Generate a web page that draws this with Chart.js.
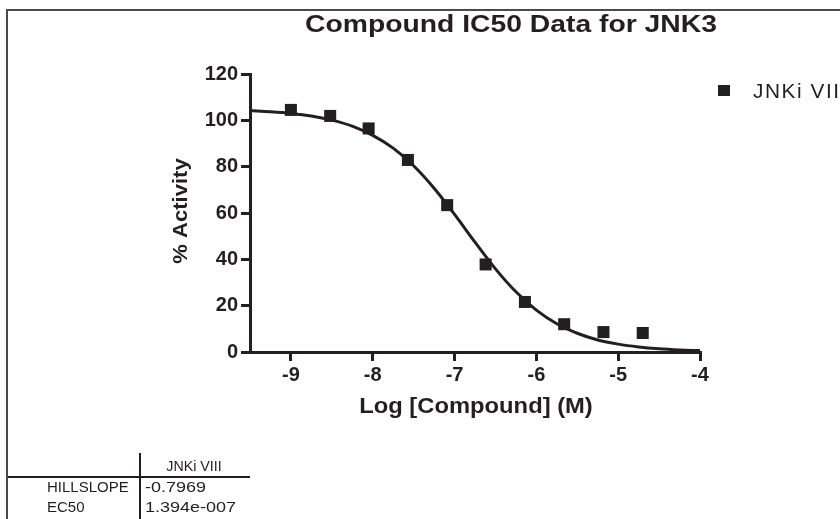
<!DOCTYPE html>
<html>
<head>
<meta charset="utf-8">
<script src="https://cdn.jsdelivr.net/npm/chart.js@4/dist/chart.umd.min.js"></script>
<style>
  body { margin: 0; background: #fff; }
  #ic50 { display: block; }
</style>
</head>
<body>
<canvas id="ic50" width="840" height="519"></canvas>
<script>
// Values
const chartTitle = 'Compound IC50 Data for JNK3';
const seriesName = 'JNKi VIII';
const xTicks = [-9, -8, -7, -6, -5, -4];
const logConc = [-9.0, -8.52, -8.05, -7.57, -7.09, -6.62, -6.14, -5.66, -5.18, -4.70];
const activity = [104.5, 101.9, 96.5, 82.9, 63.4, 37.8, 21.6, 12.0, 8.6, 8.2];
// fitted curve as traced on the plot
const fitX = [-9.5, -9.25, -9.0, -8.75, -8.5, -8.25, -8.0, -7.75, -7.5, -7.25, -7.0, -6.75,
              -6.5, -6.25, -6.0, -5.75, -5.5, -5.25, -5.0, -4.75, -4.5, -4.25, -4.0];
const fitY = [104.2, 103.7, 103.0, 101.9, 100.1, 97.5, 93.5, 88.0, 80.4, 70.7, 59.4, 47.4,
              35.9, 26.0, 18.1, 12.2, 8.1, 5.2, 3.4, 2.2, 1.4, 0.9, 0.6];
const tableRows = ['HILLSLOPE', 'EC50'];
const tableValues = ['-0.7969', '1.394e-007'];

const ink = '#231f20';
const fontFamily = '"Liberation Sans", Arial, sans-serif';

// text in the original is a bit stretched sideways, so allow a horizontal scale
function drawText(ctx, text, x, y, font, align, sx) {
    ctx.save();
    ctx.translate(x, y);
    ctx.scale(sx || 1, 1);
    ctx.font = font;
    ctx.textAlign = align;
    ctx.fillText(text, 0, 0);
    ctx.restore();
}

// Extra decorations: frame, title, axis titles, legend and results table
const extrasPlugin = {
    id: 'extras',
    beforeDraw(chart) {
        const ctx = chart.ctx;
        ctx.save();
        ctx.strokeStyle = '#4a4a4a';
        ctx.lineWidth = 2;
        ctx.beginPath();
        ctx.moveTo(7, 519);
        ctx.lineTo(7, 10);
        ctx.lineTo(840, 10);
        ctx.stroke();
        ctx.restore();
    },
    afterDraw(chart) {
        const ctx = chart.ctx;
        ctx.save();
        ctx.fillStyle = ink;
        ctx.textBaseline = 'middle';

        // title
        drawText(ctx, chartTitle, 511, 26, 'bold 23px ' + fontFamily, 'center', 1.23);

        // x axis title
        drawText(ctx, 'Log [Compound] (M)', 476, 407, 'bold 22px ' + fontFamily, 'center', 1.08);

        // y axis title
        ctx.save();
        ctx.translate(181, 211);
        ctx.rotate(-Math.PI / 2);
        drawText(ctx, '% Activity', 0, 0, 'bold 21px ' + fontFamily, 'center', 1.05);
        ctx.restore();

        // legend (runs off the right edge, as in the original)
        ctx.fillRect(718, 85, 12, 11);
        ctx.save();
        ctx.letterSpacing = '1.5px';
        drawText(ctx, seriesName, 753, 92, '20px ' + fontFamily, 'left', 1.04);
        ctx.restore();

        // results table
        ctx.strokeStyle = ink;
        ctx.lineWidth = 2;
        ctx.beginPath();
        ctx.moveTo(140, 453);
        ctx.lineTo(140, 519);
        ctx.moveTo(8, 477);
        ctx.lineTo(250, 477);
        ctx.stroke();

        const cellFont = '15px ' + fontFamily;
        drawText(ctx, seriesName, 194, 467, cellFont, 'center', 0.95);
        tableRows.forEach((label, i) => {
            const y = 488 + i * 20;
            drawText(ctx, label, 47, y, cellFont, 'left', 1);
            drawText(ctx, tableValues[i], 145, y, cellFont, 'left', 1.2);
        });
        ctx.restore();
    }
};

const ctx = document.getElementById('ic50').getContext('2d');
new Chart(ctx, {
    type: 'scatter',
    data: {
        datasets: [
            {
                label: 'fit',
                data: fitX.map((x, i) => ({ x: x, y: fitY[i] })),
                showLine: true,
                borderColor: ink,
                borderWidth: 3,
                pointRadius: 0,
                cubicInterpolationMode: 'monotone',
                fill: false
            },
            {
                label: seriesName,
                data: logConc.map((x, i) => ({ x: x, y: activity[i] })),
                pointStyle: 'rect',
                pointRadius: 8.5,
                backgroundColor: ink,
                borderColor: ink,
                borderWidth: 0
            }
        ]
    },
    options: {
        responsive: false,
        animation: false,
        layout: {
            padding: { left: 0, right: 140, top: 74, bottom: 127 }
        },
        plugins: {
            legend: { display: false },
            tooltip: { enabled: false }
        },
        scales: {
            x: {
                type: 'linear',
                min: -9.5,
                max: -4,
                afterBuildTicks: function (scale) {
                    scale.ticks = xTicks.map(v => ({ value: v }));
                },
                afterFit: function (scale) {
                    scale.height = 40;
                },
                border: { display: true, color: ink, width: 3 },
                grid: {
                    drawOnChartArea: false,
                    drawTicks: true,
                    tickLength: 9,
                    color: ink,
                    lineWidth: 3
                },
                ticks: {
                    color: ink,
                    padding: 2,
                    maxRotation: 0,
                    font: { family: fontFamily, size: 20, weight: 'bold' }
                }
            },
            y: {
                type: 'linear',
                min: 0,
                max: 120,
                afterFit: function (scale) {
                    scale.width = 250;
                },
                border: { display: true, color: ink, width: 3 },
                grid: {
                    drawOnChartArea: false,
                    drawTicks: true,
                    tickLength: 9,
                    color: ink,
                    lineWidth: 3
                },
                ticks: {
                    stepSize: 20,
                    color: ink,
                    padding: 3,
                    font: { family: fontFamily, size: 20, weight: 'bold' }
                }
            }
        }
    },
    plugins: [extrasPlugin]
});
</script>
</body>
</html>
